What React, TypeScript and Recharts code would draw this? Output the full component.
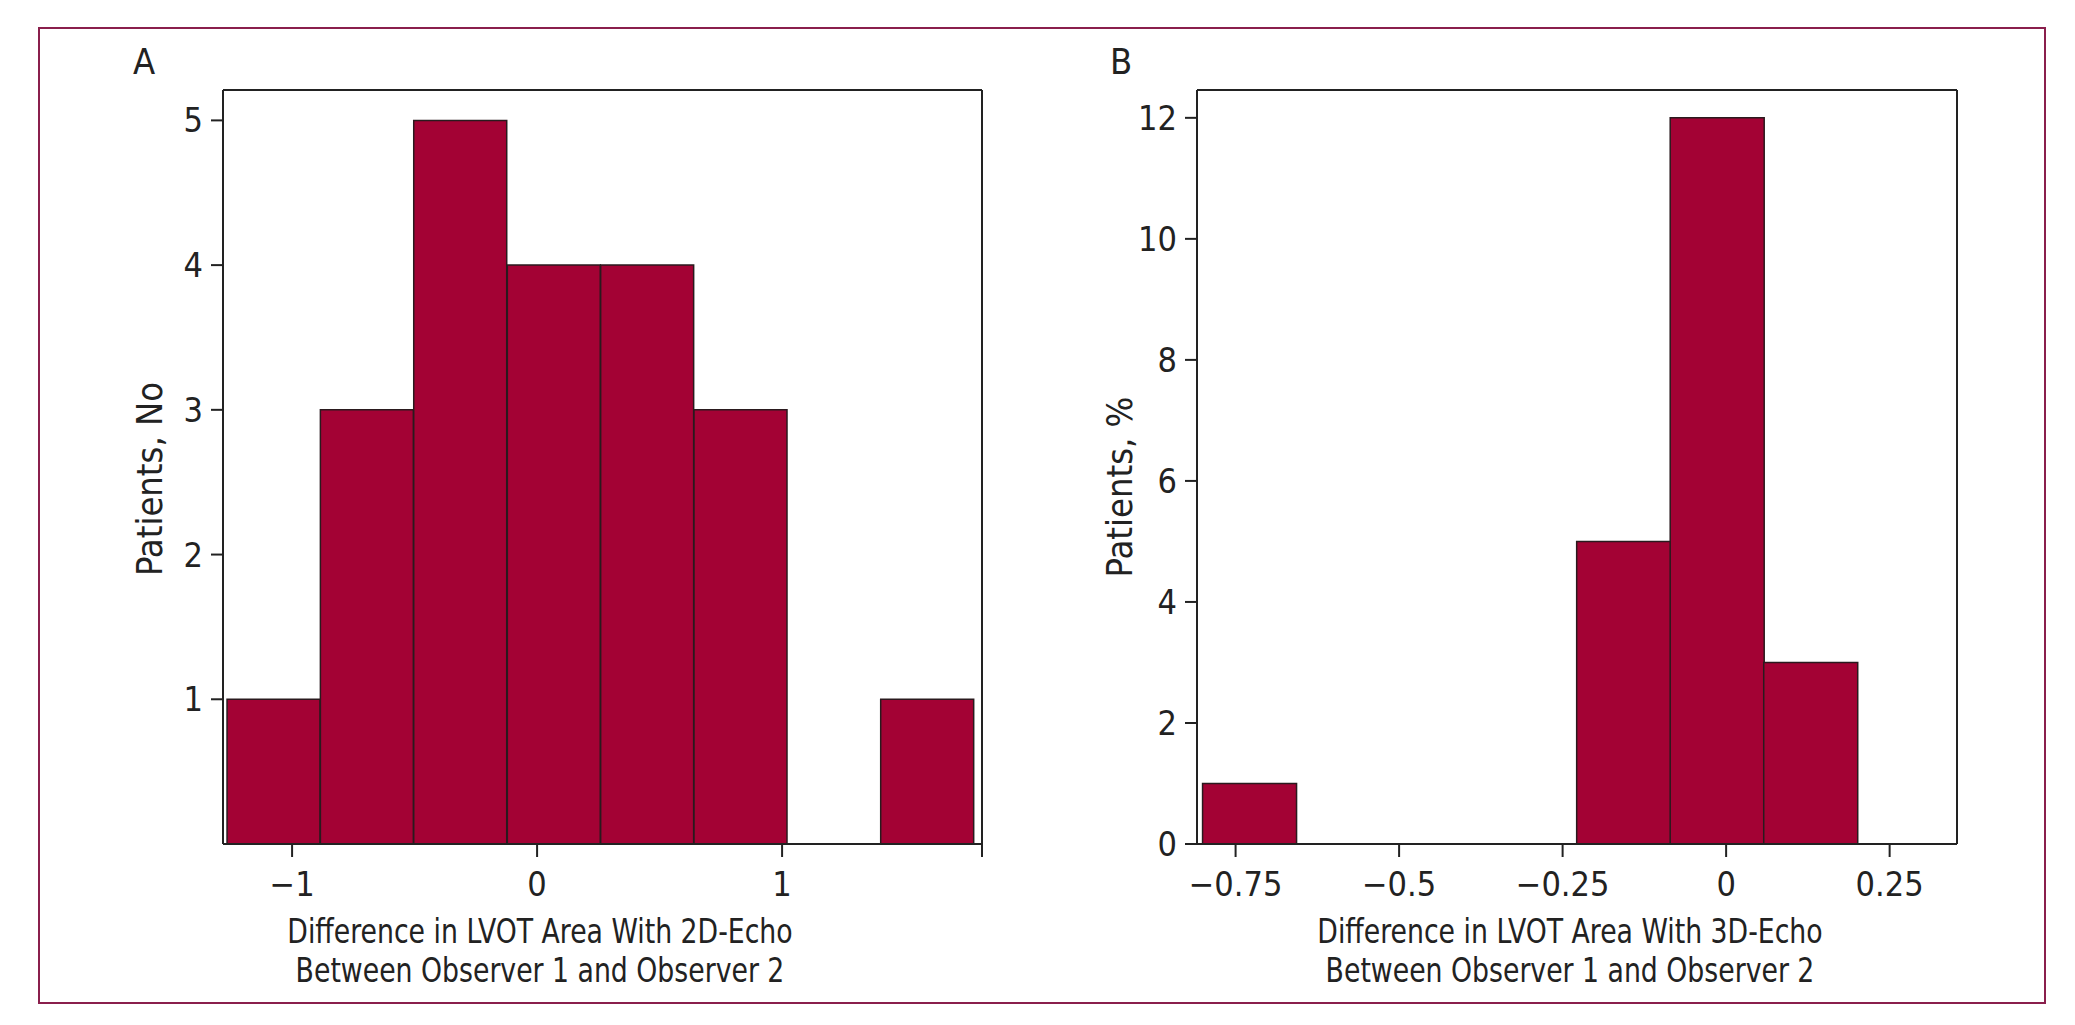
import React from 'react';
import { BarChart, Bar, XAxis, YAxis, ReferenceLine } from 'recharts';

// Panel A: 2D-Echo, bin centres and patient counts
const binsA = [-1.075, -0.694, -0.313, 0.069, 0.45, 0.831, 1.212, 1.593];
const countsA = [1, 3, 5, 4, 4, 3, 0, 1];
const xTicksA = [-1, 0, 1];
const yTicksA = [1, 2, 3, 4, 5];

// Panel B: 3D-Echo
const binsB = [-0.729, -0.586, -0.443, -0.3, -0.157, -0.014, 0.129];
const countsB = [1, 0, 0, 0, 5, 12, 3];
const xTicksB = [-0.75, -0.5, -0.25, 0, 0.25];
const yTicksB = [0, 2, 4, 6, 8, 10, 12];

const font = "'Liberation Sans Narrow', 'DejaVu Sans Condensed', 'Arial Narrow', sans-serif";
const ink = '#222';
const barFill = '#A30234';
const barEdge = '#2a1a1e';
const frameColor = '#8A1F4C';

const dataA = binsA.map((x, i) => ({ x, n: countsA[i] }));
const dataB = binsB.map((x, i) => ({ x, n: countsB[i] }));

const fmtMinus = (v: number) => (v < 0 ? '\u2212' + String(Math.abs(v)) : String(v));

type PanelProps = {
  data: { x: number; n: number }[];
  xDomain: [number, number];
  yDomain: [number, number];
  xTicks: number[];
  yTicks: number[];
  endTick?: boolean;
  width: number;
  margin: { top: number; right: number; bottom: number; left: number };
};

function Panel({ data, xDomain, yDomain, xTicks, yTicks, endTick, width, margin }: PanelProps) {
  const ticks = endTick ? [...xTicks, xDomain[1]] : xTicks;
  return (
    <BarChart width={width} height={1025} data={data} margin={margin} barCategoryGap={0} barGap={0}>
      <XAxis
        dataKey="x"
        type="number"
        domain={xDomain}
        allowDataOverflow
        ticks={ticks}
        interval={0}
        tickFormatter={(v: number) => (endTick && v === xDomain[1] ? '' : fmtMinus(v))}
        height={60}
        tickSize={13}
        tickMargin={15}
        stroke={ink}
        strokeWidth={2}
        tick={{ fontSize: 34, fill: ink, fontFamily: font }}
      />
      <YAxis
        type="number"
        domain={yDomain}
        allowDataOverflow
        ticks={yTicks}
        interval={0}
        width={60}
        tickSize={12}
        tickMargin={8}
        stroke={ink}
        strokeWidth={2}
        tick={{ fontSize: 34, fill: ink, fontFamily: font }}
      />
      <ReferenceLine y={yDomain[1]} stroke={ink} strokeWidth={2} />
      <ReferenceLine x={xDomain[1]} stroke={ink} strokeWidth={2} />
      <Bar dataKey="n" fill={barFill} stroke={barEdge} strokeWidth={1.5} isAnimationActive={false} />
    </BarChart>
  );
}

const textBase: React.CSSProperties = {
  position: 'absolute',
  fontFamily: font,
  fontSize: 36,
  lineHeight: '38px',
  color: ink,
  whiteSpace: 'nowrap',
};

const xTitle: React.CSSProperties = {
  ...textBase,
  fontSize: 33,
  lineHeight: '39px',
  width: 800,
  textAlign: 'center',
  transform: 'scaleX(0.9)',
  transformOrigin: 'center',
};

export default function App() {
  return (
    <div style={{ position: 'absolute', left: 0, top: 0, width: 2075, height: 1025, background: '#fff' }}>
      <div
        style={{
          position: 'absolute',
          left: 38,
          top: 27,
          width: 2008,
          height: 977,
          boxSizing: 'border-box',
          border: `2px solid ${frameColor}`,
        }}
      />
      <div style={{ position: 'absolute', left: 0, top: 0 }}>
        <Panel
          data={dataA}
          xDomain={[-1.282, 1.816]}
          yDomain={[0, 5.21]}
          xTicks={xTicksA}
          yTicks={yTicksA}
          endTick
          width={1040}
          margin={{ top: 90, right: 58, bottom: 121, left: 163 }}
        />
      </div>
      <div style={{ position: 'absolute', left: 1040, top: 0 }}>
        <Panel
          data={dataB}
          xDomain={[-0.809, 0.353]}
          yDomain={[0, 12.46]}
          xTicks={xTicksB}
          yTicks={yTicksB}
          width={1035}
          margin={{ top: 90, right: 118, bottom: 121, left: 97 }}
        />
      </div>

      <div style={{ ...textBase, left: 133, top: 43 }}>A</div>
      <div style={{ ...textBase, left: 1110, top: 43 }}>B</div>

      <div style={{ ...textBase, left: -50, top: 460, width: 400, textAlign: 'center', transform: 'rotate(-90deg)' }}>
        Patients, No
      </div>
      <div style={{ ...textBase, left: 920, top: 468, width: 400, textAlign: 'center', transform: 'rotate(-90deg)' }}>
        Patients, %
      </div>

      <div style={{ ...xTitle, left: 140, top: 912 }}>
        Difference in LVOT Area With 2D-Echo
        <br />
        Between Observer 1 and Observer 2
      </div>
      <div style={{ ...xTitle, left: 1170, top: 912 }}>
        Difference in LVOT Area With 3D-Echo
        <br />
        Between Observer 1 and Observer 2
      </div>
    </div>
  );
}
